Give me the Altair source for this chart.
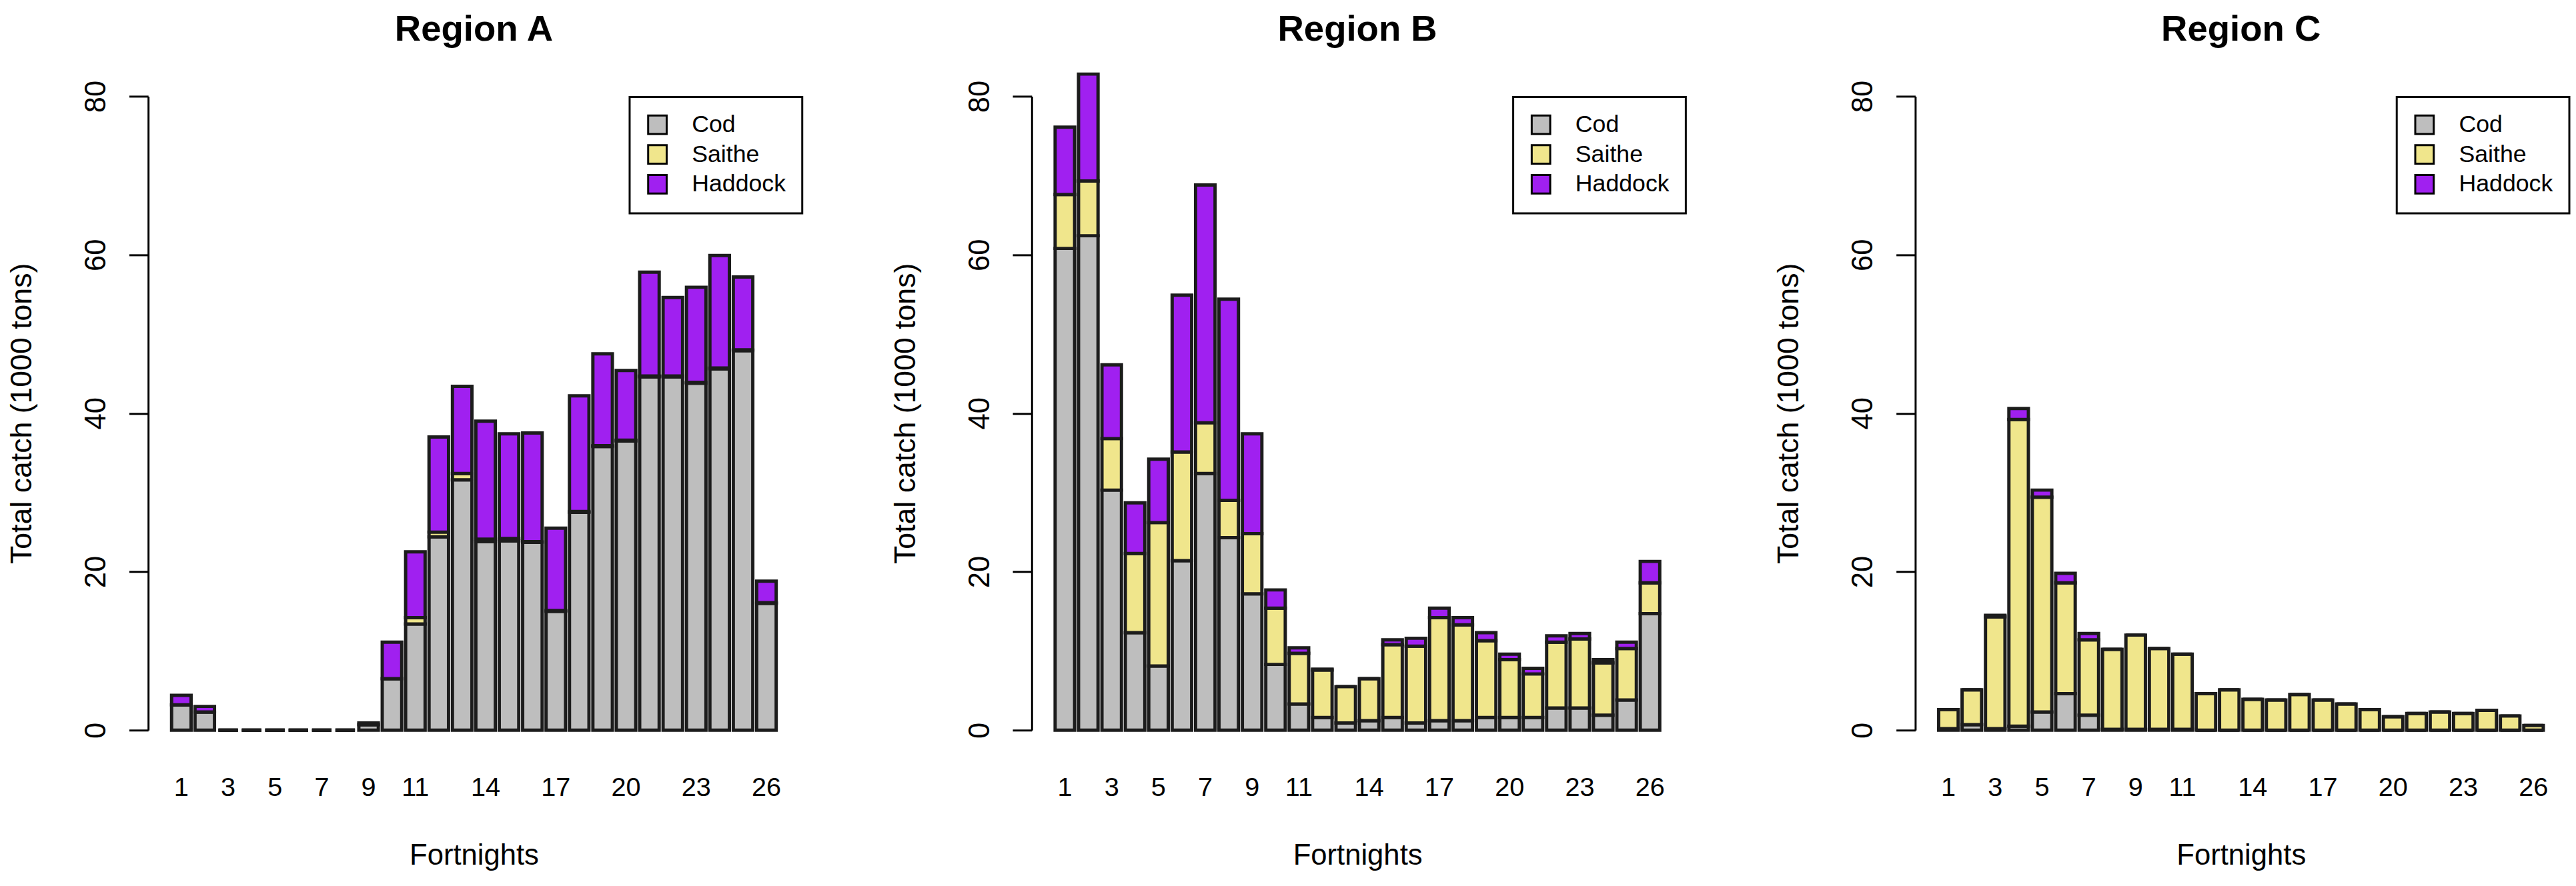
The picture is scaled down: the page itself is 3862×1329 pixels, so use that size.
import altair as alt
import pandas as pd

# ---------------- data ----------------
fortnights = list(range(1, 27))
species = ["Cod", "Saithe", "Haddock"]
colors = ["#BEBEBE", "#F0E68C", "#A020F0"]
tick_labels = [1, 3, 5, 7, 9, 11, 14, 17, 20, 23, 26]
y_ticks = [0, 20, 40, 60, 80]

A_cod = [3.2, 2.3, 0, 0, 0, 0, 0, 0, 0.7, 6.5, 13.4, 24.4, 31.6, 23.8, 23.9, 23.7,
         15.0, 27.5, 35.8, 36.5, 44.6, 44.6, 43.8, 45.6, 47.9, 16.0]
A_saithe = [0, 0, 0, 0, 0, 0, 0, 0, 0, 0, 0.8, 0.6, 0.8, 0.3, 0.3, 0.1,
            0.1, 0.1, 0.1, 0.1, 0.1, 0.1, 0.1, 0.1, 0.1, 0.1]
A_haddock = [1.2, 0.7, 0, 0, 0, 0, 0, 0, 0.2, 4.6, 8.3, 12.0, 11.0, 14.9, 13.2, 13.7,
             10.4, 14.6, 11.6, 8.8, 13.1, 9.9, 12.0, 14.2, 9.2, 2.7]

B_cod = [60.8, 62.4, 30.3, 12.3, 8.1, 21.4, 32.4, 24.3, 17.2, 8.3, 3.3, 1.6, 0.9,
         1.2, 1.6, 0.9, 1.2, 1.2, 1.6, 1.6, 1.6, 2.8, 2.8, 1.9, 3.8, 14.7]
B_saithe = [6.8, 6.9, 6.5, 10.0, 18.1, 13.7, 6.4, 4.7, 7.6, 7.1, 6.4, 6.0, 4.6,
            5.3, 9.2, 9.7, 13.0, 12.1, 9.7, 7.3, 5.5, 8.3, 8.7, 6.6, 6.5, 3.9]
B_haddock = [8.5, 13.5, 9.3, 6.4, 8.0, 19.8, 30.0, 25.4, 12.6, 2.3, 0.7, 0.1, 0.0,
             0.0, 0.6, 1.0, 1.2, 0.9, 1.0, 0.7, 0.7, 0.8, 0.7, 0.4, 0.8, 2.7]

C_cod = [0.2, 0.7, 0.2, 0.5, 2.3, 4.6, 1.9, 0.1, 0.1, 0.1, 0.1, 0, 0,
         0, 0, 0, 0, 0, 0, 0, 0, 0, 0, 0, 0, 0]
C_saithe = [2.4, 4.4, 14.1, 38.7, 27.1, 14.0, 9.5, 10.1, 11.9, 10.2, 9.5, 4.6, 5.1,
            3.9, 3.8, 4.5, 3.8, 3.3, 2.6, 1.7, 2.1, 2.3, 2.1, 2.5, 1.8, 0.6]
C_haddock = [0, 0, 0.2, 1.4, 0.9, 1.2, 0.8, 0, 0, 0, 0, 0, 0,
             0, 0, 0, 0, 0, 0, 0, 0, 0, 0, 0, 0, 0]

# ---------------- layout ----------------
FONT = "Liberation Sans"
W, H = 985, 959
YMAX = 80
BAR_STROKE = 5


def panel(title, cod, saithe, haddock):
    rows = []
    for i, f in enumerate(fortnights):
        for k, (sp, vals) in enumerate(zip(species, [cod, saithe, haddock])):
            rows.append({"fortnight": f, "species": sp, "order": k, "catch": vals[i]})
    df = pd.DataFrame(rows)
    tallest = max(c + s + h for c, s, h in zip(cod, saithe, haddock))
    over = max(24.5, (tallest - YMAX) * H / YMAX + BAR_STROKE / 2)
    return alt.Chart(df).mark_bar(stroke="#1c1c1c", strokeWidth=BAR_STROKE).encode(
        x=alt.X("fortnight:O",
                scale=alt.Scale(paddingInner=0.2 / 1.2, paddingOuter=1),
                axis=alt.Axis(values=tick_labels, domain=False, ticks=False, tickSize=0,
                              labelAngle=0, labelFontSize=40, labelBaseline="alphabetic",
                              labelPadding=99, labelOverlap=False,
                              title="Fortnights", titleFontSize=44, titleFontWeight="normal",
                              titleBaseline="alphabetic", titleAlign="center",
                              titleX=W / 2, titleY=203)),
        y=alt.Y("catch:Q", stack="zero",
                scale=alt.Scale(domain=[0, YMAX], nice=False),
                axis=alt.Axis(values=y_ticks, grid=False, tickSize=29,
                              labelAngle=270, labelAlign="center", labelBaseline="alphabetic",
                              labelPadding=36, labelFontSize=44, labelFlush=False,
                              labelOverlap=False,
                              title="Total catch (1000 tons)", titleAngle=270,
                              titleFontSize=45, titleFontWeight="normal",
                              titleBaseline="alphabetic", titleAlign="center",
                              titleX=-177, titleY=H / 2)),
        color=alt.Color("species:N",
                        scale=alt.Scale(domain=species, range=colors),
                        legend=alt.Legend(title=None, orient="none", legendX=728, legendY=1)),
        order=alt.Order("order:Q"),
    ).properties(
        width=W, height=H,
        title=alt.Title(text=title, fontSize=55, fontWeight="bold", font=FONT,
                        color="black", anchor="middle", frame="group",
                        baseline="alphabetic", offset=29 - over),
    )


chart = alt.hconcat(
    panel("Region A", A_cod, A_saithe, A_haddock),
    panel("Region B", B_cod, B_saithe, B_haddock),
    panel("Region C", C_cod, C_saithe, C_haddock),
    spacing=131,
).resolve_legend(color="independent").properties(
    padding={"left": 2, "top": 3, "right": 0, "bottom": 0},
    background="white",
).configure_view(stroke="transparent").configure_axis(
    domainColor="black", tickColor="black", labelColor="black", titleColor="black",
    domainWidth=3, tickWidth=3, labelFont=FONT, titleFont=FONT,
).configure_legend(
    strokeColor="black", strokeWidth=3, padding=24, fillColor="white",
    labelFont=FONT, labelFontSize=36, labelColor="black",
    symbolType="square", symbolSize=784, symbolStrokeColor="black",
    symbolStrokeWidth=3, rowPadding=5, labelOffset=34,
)

chart.save("out.html", embed_options={"renderer": "svg", "actions": False})
